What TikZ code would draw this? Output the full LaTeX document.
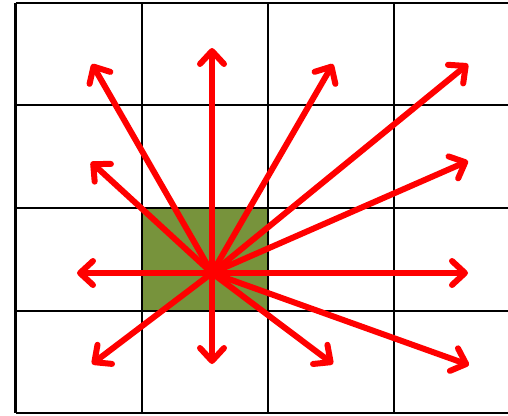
\documentclass[tikz,border=0pt]{standalone}
\usetikzlibrary{arrows.meta}
\definecolor{cellgreen}{HTML}{77933C}
\begin{document}
\begin{tikzpicture}[x=1pt,y=-1pt,
  gridline/.style={black,line width=2.6pt},
  ray/.style={red,line width=6pt,line cap=round,line join=round,
    -{Straight Barb[round,length=13pt,width=24pt,line width=6pt]}}]
\useasboundingbox (0,0) rectangle (508,415);
\fill[cellgreen] (142,208) rectangle (268,311);
\foreach \x in {15.5,142,268,394} \draw[gridline] (\x,3) -- (\x,413);
\foreach \y in {3,105,208,311,413} \draw[gridline] (15.5,\y) -- (508,\y);
\coordinate (c) at (212,273);
\coordinate (t1) at (92,64);
\coordinate (t2) at (212,48);
\coordinate (t3) at (333,64);
\coordinate (t4) at (468,64);
\coordinate (t5) at (91,162);
\coordinate (t6) at (468,161);
\coordinate (t7) at (77,273);
\coordinate (t8) at (468,273);
\coordinate (t9) at (92,364);
\coordinate (t10) at (212,364);
\coordinate (t11) at (333,364);
\coordinate (t12) at (469,365);
\foreach \i in {1,...,12} \draw[ray] (c) -- (t\i);
\end{tikzpicture}
\end{document}
